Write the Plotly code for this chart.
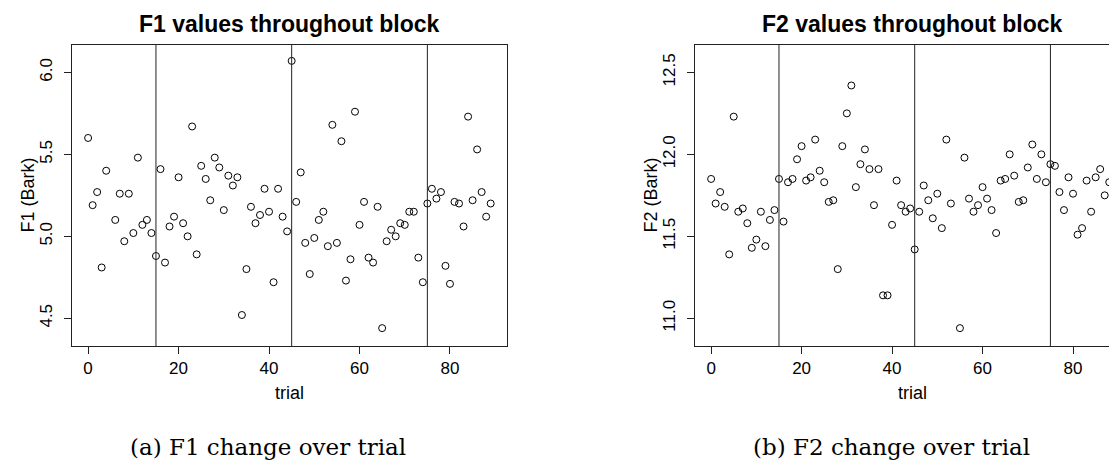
import plotly.graph_objects as go

# trial index, one point per trial (NaN trials left as None)
trial = list(range(90))

f1_bark = [5.60, 5.19, 5.27, 4.81, 5.40, None, 5.10, 5.26, 4.97, 5.26,
           5.02, 5.48, 5.07, 5.10, 5.02, 4.88, 5.41, 4.84, 5.06, 5.12,
           5.36, 5.08, 5.00, 5.67, 4.89, 5.43, 5.35, 5.22, 5.48, 5.42,
           5.16, 5.37, 5.31, 5.36, 4.52, 4.80, 5.18, 5.08, 5.13, 5.29,
           5.15, 4.72, 5.29, 5.12, 5.03, 6.07, 5.21, 5.39, 4.96, 4.77,
           4.99, 5.10, 5.15, 4.94, 5.68, 4.96, 5.58, 4.73, 4.86, 5.76,
           5.07, 5.21, 4.87, 4.84, 5.18, 4.44, 4.97, 5.04, 5.00, 5.08,
           5.07, 5.15, 5.15, 4.87, 4.72, 5.20, 5.29, 5.23, 5.27, 4.82,
           4.71, 5.21, 5.20, 5.06, 5.73, 5.22, 5.53, 5.27, 5.12, 5.20]

f2_bark = [11.85, 11.70, 11.77, 11.68, 11.39, 12.23, 11.65, 11.67, 11.58, 11.43,
           11.48, 11.65, 11.44, 11.60, 11.66, 11.85, 11.59, 11.83, 11.85, 11.97,
           12.05, 11.84, 11.86, 12.09, 11.90, 11.83, 11.71, 11.72, 11.30, 12.05,
           12.25, 12.42, 11.80, 11.94, 12.03, 11.91, 11.69, 11.91, 11.14, 11.14,
           11.57, 11.84, 11.69, 11.65, 11.67, 11.42, 11.65, 11.81, 11.72, 11.61,
           11.76, 11.55, 12.09, 11.70, None, 10.94, 11.98, 11.73, 11.65, 11.69,
           11.80, 11.73, 11.66, 11.52, 11.84, 11.85, 12.00, 11.87, 11.71, 11.72,
           11.92, 12.06, 11.85, 12.00, 11.83, 11.94, 11.93, 11.77, 11.66, 11.86,
           11.76, 11.51, 11.55, 11.84, 11.65, 11.86, 11.91, 11.75, 11.83, 11.46]

block_starts = [15, 45, 75]
f1_ticks = [4.5, 5.0, 5.5, 6.0]
f2_ticks = [11.0, 11.5, 12.0, 12.5]
x_ticks = [0, 20, 40, 60, 80]

# page body has an 8px margin, so the figure is 8px smaller and everything is shifted
OFF = 8
W, H = 1117 - OFF, 461 - OFF
SANS = "Liberation Sans"
SERIF = "DejaVu Serif"
INK = "#222"


def px_x(p):
    return (p - OFF) / W


def px_y(p):
    # paper y for a pixel row of the page, plot area spans rows 45..346
    return (346 - p) / 301


fig = go.Figure()

for y, xa, ya in [(f1_bark, "x", "y"), (f2_bark, "x2", "y2")]:
    fig.add_trace(go.Scatter(
        x=trial, y=y, xaxis=xa, yaxis=ya, mode="markers",
        marker=dict(symbol="circle-open", size=7, color="black", line=dict(width=1, color="black")),
        showlegend=False, hoverinfo="x+y",
    ))

# block boundaries
for xr in ["x", "x2"]:
    for b in block_starts:
        fig.add_shape(type="line", xref=xr, yref=("y domain" if xr == "x" else "y2 domain"),
                      x0=b, x1=b, y0=0, y1=1, line=dict(color=INK, width=1))

axis_common = dict(showgrid=False, zeroline=False, showline=True, linecolor=INK, linewidth=1,
                   ticks="outside", ticklen=7, tickwidth=1, tickcolor=INK,
                   tickfont=dict(family=SANS, size=17, color="black"))

fig.update_layout(
    width=W, height=H,
    margin=dict(l=0, r=0, t=45 - OFF, b=115),
    plot_bgcolor="white", paper_bgcolor="white",
    xaxis=dict(domain=[px_x(72), px_x(506.8)], range=[-3.56, 92.56], tickvals=x_ticks,
               mirror=True, ticklabelstandoff=0, **axis_common),
    yaxis=dict(domain=[0, 1], range=[4.331, 6.167], tickvals=f1_ticks, tickformat=".1f",
               tickangle=-90, mirror=True, ticklabelstandoff=5, **axis_common),
    xaxis2=dict(domain=[px_x(695), 1.0], range=[-3.56, -3.56 + (1117 - 695) / 4.524], tickvals=x_ticks,
                mirror=True, anchor="y2", ticklabelstandoff=0, **axis_common),
    yaxis2=dict(domain=[0, 1], range=[10.831, 12.667], tickvals=f2_ticks, tickformat=".1f",
                tickangle=-90, anchor="x2", ticklabelstandoff=5, **axis_common),
)

annotations = [
    dict(text="<b>F1 values throughout block</b>", x=px_x(289.4), y=px_y(24), font=dict(size=23)),
    dict(text="<b>F2 values throughout block</b>", x=px_x(912.3), y=px_y(24), font=dict(size=23)),
    dict(text="trial", x=px_x(289.4), y=px_y(393), font=dict(size=18)),
    dict(text="trial", x=px_x(912.3), y=px_y(393), font=dict(size=18)),
    dict(text="F1 (Bark)", x=px_x(27), y=px_y(195.5), textangle=-90, font=dict(size=18)),
    dict(text="F2 (Bark)", x=px_x(650), y=px_y(195.5), textangle=-90, font=dict(size=18)),
    dict(text="(a) F1 change over trial", x=px_x(268), y=px_y(447),
         font=dict(family=SERIF, size=23)),
    dict(text="(b) F2 change over trial", x=px_x(891), y=px_y(447),
         font=dict(family=SERIF, size=23)),
]
for a in annotations:
    font = dict(family=SANS, color="black")
    font.update(a.pop("font"))
    fig.add_annotation(xref="paper", yref="paper", showarrow=False,
                       xanchor="center", yanchor="middle", font=font, **a)

fig.write_html("out.html")
